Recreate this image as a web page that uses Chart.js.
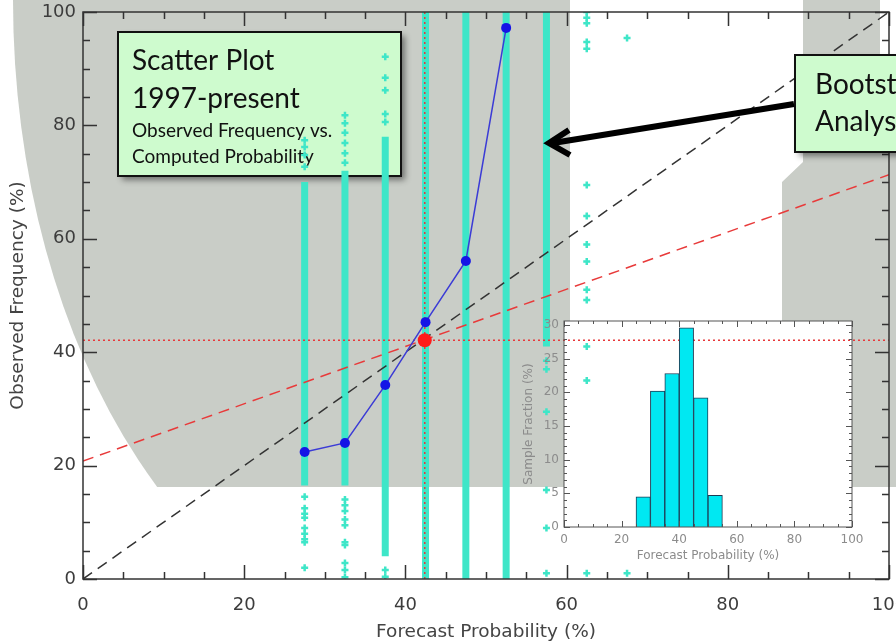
<!DOCTYPE html>
<html>
<head>
<meta charset="utf-8">
<script src="https://cdn.jsdelivr.net/npm/chart.js@4"></script>
<style>
  html, body { margin: 0; padding: 0; background: #fff; }
  #wrap { position: relative; width: 896px; height: 644px; overflow: hidden; }
  #mainChart { position: absolute; left: 0; top: 0; }
  #insetChart { position: absolute; left: 505px; top: 310px; }
</style>
</head>
<body>
<div id="wrap">
  <canvas id="mainChart" width="896" height="644"></canvas>
  <canvas id="insetChart" width="360" height="260"></canvas>
</div>
<script>
// Forecast probability bins (%) of the bootstrap columns
const binCenters = [27.5, 32.5, 37.5, 42.5, 47.5, 52.5, 57.5];
// packed part of each column (observed frequency, %)
const columnLow  = [16.5, 16.5, 4, 0, 0, 0, 41];
const columnHigh = [70, 72, 78, 100, 100, 100, 100];

// loose bootstrap samples outside the packed parts
const looseX = [
    27.5, 27.5, 27.5, 27.5, 27.5, 27.5, 27.5, 27.5, 27.5, 27.5, 27.5, 27.5, 27.5,
    32.5, 32.5, 32.5, 32.5, 32.5, 32.5, 32.5, 32.5, 32.5, 32.5, 32.5, 32.5, 32.5, 32.5, 32.5, 32.5,
    37.5, 37.5, 37.5, 37.5, 37.5, 37.5, 37.5,
    57.5, 57.5, 57.5, 57.5, 57.5, 57.5,
    62.5, 62.5, 62.5, 62.5, 62.5, 62.5, 62.5, 62.5, 62.5, 62.5, 62.5, 62.5, 62.5, 62.5,
    67.5, 67.5
];
const looseY = [
    77.4, 76.2, 74.8, 72.7, 14.5, 12.5, 11.5, 10.8, 9, 8, 7, 6.5, 2,
    81.8, 80.4, 78.7, 76.9, 75.1, 73.4, 14, 13, 12, 10.5, 9.5, 6.5, 6, 2.8, 1.6, 0.3,
    92.1, 88.4, 86.2, 82, 80.6, 1.6, 0.4,
    38.5, 37, 29.5, 15.7, 9, 1,
    100, 99, 98, 94.7, 93.5, 69.5, 64, 59, 56, 51, 49.2, 41, 35, 1,
    95.4, 1
];

// reliability curve
const reliabilityX = [27.5, 32.5, 37.5, 42.5, 47.5, 52.5];
const reliabilityY = [22.4, 24.0, 34.2, 45.3, 56.1, 97.2];

// climatology / mean forecast
const meanForecast = 42.4;
const climatology = 42.1;

// regression fit and perfect reliability
const lineX = [0, 100];
const fitY = [20.8, 71.3];
const perfectY = [0, 100];

// inset histogram
const histX = [27.5, 32.5, 37.5, 42.5, 47.5, 52.5];
const histY = [4.5, 20.2, 22.8, 29.6, 19.2, 4.7];

// tick labels
const xTickLabels = [0, 20, 40, 60, 80, 100];
const yTickLabels = [0, 20, 40, 60, 80, 100];
const insetXTicks = [0, 20, 40, 60, 80, 100];
const insetYTicks = [0, 5, 10, 15, 20, 25, 30];

const CYAN = 'rgb(62, 230, 200)';
const GREY = '#c9cdc7';
const BOXGREEN = '#cefbce';
const INSET = { left: 505, top: 310, w: 360, h: 260, padL: 59, padT: 11, padR: 13, padB: 43 };

// inward ticks on all four sides plus the frame
function frameTicks(o) {
    return {
        id: 'frameTicks',
        afterDatasetsDraw(chart) {
            const { ctx, chartArea: a, scales: { x, y } } = chart;
            ctx.save();
            ctx.strokeStyle = o.color;
            ctx.lineWidth = o.width;
            ctx.beginPath();
            for (let v = x.min; v <= x.max + 1e-6; v += o.xMinor) {
                const px = Math.round(x.getPixelForValue(v)) + 0.5;
                const len = Math.abs(v % o.xMajor) < 1e-6 ? o.majorLen : o.minorLen;
                ctx.moveTo(px, a.bottom); ctx.lineTo(px, a.bottom - len);
                ctx.moveTo(px, a.top); ctx.lineTo(px, a.top + len);
            }
            for (let v = y.min; v <= y.max + 1e-6; v += o.yMinor) {
                const py = Math.round(y.getPixelForValue(v)) + 0.5;
                const len = Math.abs(v % o.yMajor) < 1e-6 ? o.majorLen : o.minorLen;
                ctx.moveTo(a.left, py); ctx.lineTo(a.left + len, py);
                ctx.moveTo(a.right, py); ctx.lineTo(a.right - len, py);
            }
            ctx.stroke();
            ctx.strokeRect(a.left, a.top, a.right - a.left, a.bottom - a.top);
            ctx.restore();
        }
    };
}

function greenBox(ctx, x, y, w, h) {
    ctx.save();
    ctx.shadowColor = 'rgba(0,0,0,0.45)';
    ctx.shadowBlur = 6;
    ctx.shadowOffsetX = 4;
    ctx.shadowOffsetY = 4;
    ctx.fillStyle = BOXGREEN;
    ctx.fillRect(x, y, w, h);
    ctx.restore();
    ctx.save();
    ctx.strokeStyle = '#111';
    ctx.lineWidth = 2;
    ctx.strokeRect(x, y, w, h);
    ctx.restore();
}

const backdrop = {
    id: 'backdrop',
    beforeDraw(chart) {
        const ctx = chart.ctx;
        ctx.save();
        ctx.fillStyle = GREY;
        ctx.beginPath(); ctx.rect(0, 0, 570, 487); ctx.clip();
        ctx.beginPath(); ctx.ellipse(440, 0, 427, 650, 0, 0, Math.PI * 2); ctx.fill();
        ctx.restore();
        ctx.save();
        ctx.fillStyle = GREY;
        ctx.beginPath();
        ctx.moveTo(803, 0); ctx.lineTo(880, 0); ctx.lineTo(880, 150); ctx.lineTo(896, 150);
        ctx.lineTo(896, 487); ctx.lineTo(782, 487); ctx.lineTo(782, 182); ctx.lineTo(803, 162);
        ctx.closePath();
        ctx.fill();
        ctx.restore();
    },
    beforeDatasetsDraw(chart) {
        const ctx = chart.ctx;
        // white panel behind the inset histogram
        ctx.save();
        ctx.fillStyle = '#fff';
        ctx.fillRect(INSET.left + INSET.padL, INSET.top + INSET.padT,
            INSET.w - INSET.padL - INSET.padR, INSET.h - INSET.padT - INSET.padB);
        ctx.restore();
        // title box
        greenBox(ctx, 118, 32, 283, 144);
        ctx.save();
        ctx.fillStyle = '#111';
        ctx.font = '28px Lato';
        ctx.fillText('Scatter Plot', 132, 70);
        ctx.fillText('1997-present', 132, 108);
        ctx.font = '19px Lato';
        ctx.fillText('Observed Frequency vs.', 132, 137);
        ctx.fillText('Computed Probability', 132, 163);
        ctx.restore();
    },
    afterDraw(chart) {
        const ctx = chart.ctx;
        greenBox(ctx, 795, 55, 130, 97);
        ctx.save();
        ctx.fillStyle = '#111';
        ctx.font = '28px Lato';
        ctx.fillText('Bootstrap', 815, 94);
        ctx.fillText('Analysis', 815, 131);
        // arrow
        ctx.strokeStyle = '#000';
        ctx.lineWidth = 6;
        ctx.beginPath();
        ctx.moveTo(794, 104); ctx.lineTo(553, 143);
        ctx.stroke();
        ctx.lineJoin = 'miter';
        ctx.beginPath();
        ctx.moveTo(569, 130); ctx.lineTo(549, 143); ctx.lineTo(570, 155);
        ctx.stroke();
        ctx.restore();
    }
};

const tickFont = { family: 'DejaVu Sans', size: 18 };
const titleFont = { family: 'DejaVu Sans', size: 18.5 };

const datasets = [
    {
        label: 'mean',
        data: [{ x: meanForecast, y: climatology }],
        pointRadius: 7,
        pointBackgroundColor: '#ff1a1a',
        pointBorderWidth: 0
    },
    {
        type: 'line',
        label: 'reliability',
        data: reliabilityX.map((x, i) => ({ x, y: reliabilityY[i] })),
        borderColor: '#3b3bd6',
        borderWidth: 1.5,
        pointRadius: 5,
        pointBackgroundColor: '#1414e6',
        pointBorderWidth: 0
    },
    {
        type: 'line',
        label: 'climatology',
        data: lineX.map(x => ({ x, y: climatology })),
        borderColor: '#e8383a',
        borderWidth: 1.5,
        borderDash: [2, 3],
        pointRadius: 0
    },
    {
        type: 'line',
        label: 'mean forecast',
        data: perfectY.map(y => ({ x: meanForecast, y })),
        borderColor: '#e8383a',
        borderWidth: 1.5,
        borderDash: [2, 3],
        pointRadius: 0
    },
    {
        type: 'line',
        label: 'fit',
        data: lineX.map((x, i) => ({ x, y: fitY[i] })),
        borderColor: '#e83a3a',
        borderWidth: 1.5,
        borderDash: [11, 7],
        pointRadius: 0
    },
    {
        type: 'line',
        label: 'perfect',
        data: lineX.map((x, i) => ({ x, y: perfectY[i] })),
        borderColor: '#333',
        borderWidth: 1.5,
        borderDash: [11, 7],
        pointRadius: 0
    },
    {
        label: 'loose samples',
        data: looseX.map((x, i) => ({ x, y: looseY[i] })),
        pointStyle: 'cross',
        pointRadius: 3.5,
        borderColor: CYAN,
        borderWidth: 2.5
    }
];
binCenters.forEach((x, i) => {
    datasets.push({
        type: 'line',
        label: 'column ' + x,
        data: [{ x, y: columnLow[i] }, { x, y: columnHigh[i] }],
        borderColor: CYAN,
        borderWidth: 7,
        borderCapStyle: 'butt',
        pointRadius: 0
    });
});

new Chart(document.getElementById('mainChart'), {
    type: 'scatter',
    data: { datasets },
    options: {
        responsive: false,
        animation: false,
        layout: { padding: { left: 0, right: 6, top: 12, bottom: 0 } },
        plugins: { legend: { display: false }, tooltip: { enabled: false } },
        scales: {
            x: {
                type: 'linear', min: 0, max: 100,
                border: { display: false },
                grid: { display: false, drawTicks: false },
                afterBuildTicks(s) { s.ticks = xTickLabels.map(v => ({ value: v })); },
                ticks: { autoSkip: false, maxRotation: 0, padding: 16, color: '#3c3c3c', font: tickFont },
                title: { display: true, text: 'Forecast Probability (%)', color: '#444', font: titleFont, padding: { top: 0, bottom: 1 } },
                afterFit(s) { s.height = 65; s.paddingLeft = 0; s.paddingRight = 0; }
            },
            y: {
                type: 'linear', min: 0, max: 100,
                border: { display: false },
                grid: { display: false, drawTicks: false },
                afterBuildTicks(s) { s.ticks = yTickLabels.map(v => ({ value: v })); },
                ticks: { padding: 7, color: '#3c3c3c', font: tickFont },
                title: { display: true, text: 'Observed Frequency (%)', color: '#444', font: titleFont, padding: { top: 7, bottom: 0 } },
                afterFit(s) { s.width = 83; s.paddingTop = 0; s.paddingBottom = 0; }
            }
        }
    },
    plugins: [backdrop, frameTicks({ color: '#333', width: 1.5, xMinor: 5, xMajor: 20, yMinor: 5, yMajor: 20, majorLen: 14, minorLen: 7 })]
});

// Inset: sample fraction histogram
const insetFont = { family: 'DejaVu Sans', size: 12 };
new Chart(document.getElementById('insetChart'), {
    type: 'bar',
    data: {
        datasets: [{
            data: histX.map((x, i) => ({ x, y: histY[i] })),
            backgroundColor: '#00e8f2',
            borderColor: '#1d3c55',
            borderWidth: 1,
            barPercentage: 1,
            categoryPercentage: 1
        }]
    },
    options: {
        responsive: false,
        animation: false,
        layout: { padding: { left: 0, right: INSET.padR, top: INSET.padT, bottom: 0 } },
        plugins: { legend: { display: false }, tooltip: { enabled: false } },
        scales: {
            x: {
                type: 'linear', min: 0, max: 100, offset: false,
                border: { display: false },
                grid: { display: false, drawTicks: false },
                afterBuildTicks(s) { s.ticks = insetXTicks.map(v => ({ value: v })); },
                ticks: { autoSkip: false, maxRotation: 0, padding: 6, color: '#8c8c8c', font: insetFont },
                title: { display: true, text: 'Forecast Probability (%)', color: '#8c8c8c', font: insetFont, padding: { top: 0, bottom: 7 } },
                afterFit(s) { s.height = INSET.padB; s.paddingLeft = 0; s.paddingRight = 0; }
            },
            y: {
                type: 'linear', min: 0, max: 30.6,
                border: { display: false },
                grid: { display: false, drawTicks: false },
                afterBuildTicks(s) { s.ticks = insetYTicks.map(v => ({ value: v })); },
                ticks: { padding: 5, color: '#8c8c8c', font: insetFont },
                title: { display: true, text: 'Sample Fraction (%)', color: '#8c8c8c', font: insetFont, padding: { top: 17, bottom: 0 } },
                afterFit(s) { s.width = INSET.padL; s.paddingTop = 0; s.paddingBottom = 0; }
            }
        }
    },
    plugins: [frameTicks({ color: '#555', width: 1, xMinor: 5, xMajor: 20, yMinor: 1, yMajor: 5, majorLen: 6, minorLen: 3 })]
});
</script>
</body>
</html>
